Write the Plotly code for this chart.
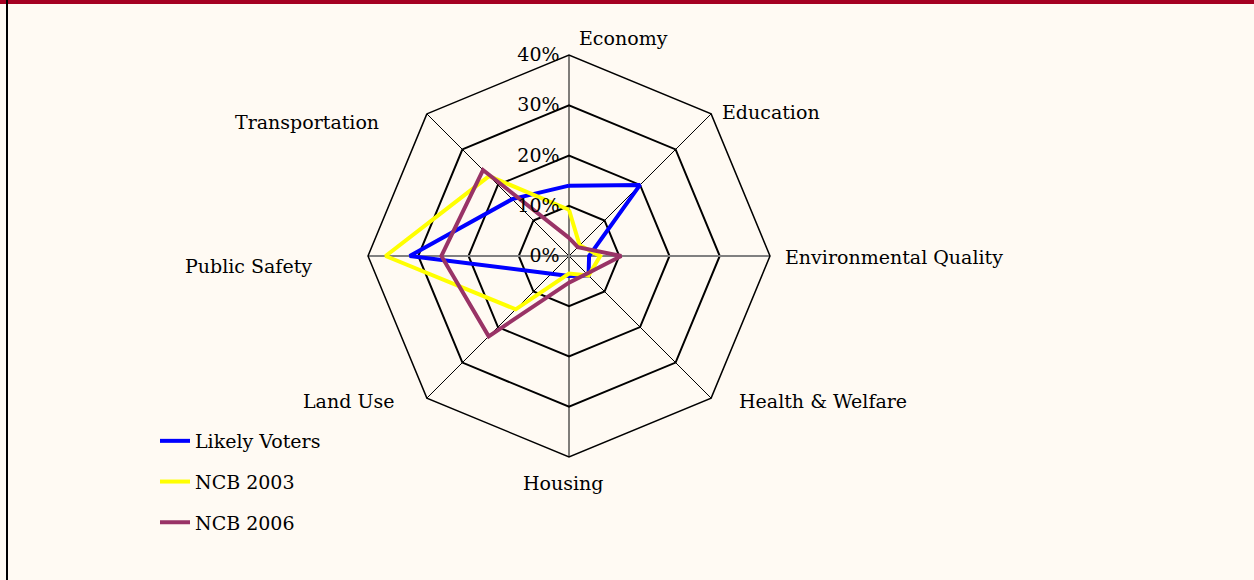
import plotly.graph_objects as go

# Categories go clockwise from the top
categories = ['Economy', 'Education', 'Environmental Quality', 'Health & Welfare',
              'Housing', 'Land Use', 'Public Safety', 'Transportation']

# Share of respondents naming each issue (%)
likely_voters = [14, 20, 4, 5.5, 4, 5, 31.7, 16]
ncb_2003 = [9.2, 3, 6.2, 5.5, 3.5, 15, 36.5, 22.5]
ncb_2006 = [3.6, 2.5, 10.4, 5, 5.3, 22.6, 25.4, 24.2]

radial_ticks = [0, 10, 20, 30, 40]
tick_labels = ['0%', '10%', '20%', '30%', '40%']

series = [
    ('Likely Voters', likely_voters, '#0000FF'),
    ('NCB 2003', ncb_2003, '#FFFF00'),
    ('NCB 2006', ncb_2006, '#993366'),
]

bg = '#FFFAF3'
W, H = 1254, 580
FONT = 'DejaVu Serif'
FS = 19

# where Excel put the category labels (px from top-left, anchor)
label_pos = {
    'Economy': (577, 38, 'left'),
    'Education': (720, 112, 'left'),
    'Environmental Quality': (783, 257, 'left'),
    'Health & Welfare': (737, 401, 'left'),
    'Housing': (563, 483, 'center'),
    'Land Use': (396, 401, 'right'),
    'Public Safety': (314, 266, 'right'),
    'Transportation': (381, 122, 'right'),
}

fig = go.Figure()

# grey horizontal spoke (Public Safety - Environmental Quality) like the original
fig.add_trace(go.Scatterpolar(
    r=[radial_ticks[-1], 0, radial_ticks[-1]],
    theta=['Public Safety', 'Economy', 'Environmental Quality'],
    mode='lines', line=dict(color='#808080', width=2),
    showlegend=False, hoverinfo='skip'
))

for name, vals, col in series:
    fig.add_trace(go.Scatterpolar(
        r=vals + vals[:1],
        theta=categories + categories[:1],
        mode='lines',
        name=name,
        legendgroup=name,
        line=dict(color=col, width=4)
    ))

annotations = []
for cat in categories:
    px_x, px_y, anchor = label_pos[cat]
    annotations.append(dict(
        text=cat, x=px_x / W, y=1 - px_y / H, xref='paper', yref='paper',
        xanchor=anchor, yanchor='middle', showarrow=False,
        font=dict(family=FONT, size=FS, color='black')
    ))

# polar square: centre (569, 256) px, radius 201 px
cx, cy, rad = 569, 256, 201
fig.update_layout(
    width=W, height=H,
    margin=dict(l=0, r=0, t=0, b=0),
    paper_bgcolor=bg,
    font=dict(family=FONT, size=FS, color='black'),
    polar=dict(
        domain=dict(x=[(cx - rad) / W, (cx + rad) / W],
                    y=[1 - (cy + rad) / H, 1 - (cy - rad) / H]),
        bgcolor=bg,
        gridshape='linear',
        radialaxis=dict(
            range=[0, 40], tickvals=radial_ticks,
            ticktext=[t + '\u00a0' for t in tick_labels],
            angle=90, side='counterclockwise', tickangle=90,
            showline=False, ticks='', gridcolor='black', gridwidth=1.5,
            tickfont=dict(size=FS)
        ),
        angularaxis=dict(
            direction='clockwise', rotation=90,
            categoryorder='array', categoryarray=categories,
            linecolor='black', linewidth=1.5,
            gridcolor='black', gridwidth=1, ticks='',
            showticklabels=False
        )
    ),
    legend=dict(
        x=155 / W, y=1 - 422 / H, xanchor='left', yanchor='top',
        bgcolor='rgba(0,0,0,0)', font=dict(size=FS),
        tracegroupgap=13
    ),
    annotations=annotations,
    shapes=[
        dict(type='rect', xref='paper', yref='paper', x0=0, x1=1,
             y0=1 - 4 / H, y1=1, fillcolor='#A50021', line_width=0),
        dict(type='rect', xref='paper', yref='paper', x0=6 / W, x1=8 / W,
             y0=0, y1=1, fillcolor='black', line_width=0),
    ]
)

# drop the browser's default 8px body margin so the frame sits at the page edge
fig.write_html("out.html", config={'displayModeBar': False},
               post_script="document.body.style.margin='0';"
                           "document.body.style.background='%s';" % bg)
